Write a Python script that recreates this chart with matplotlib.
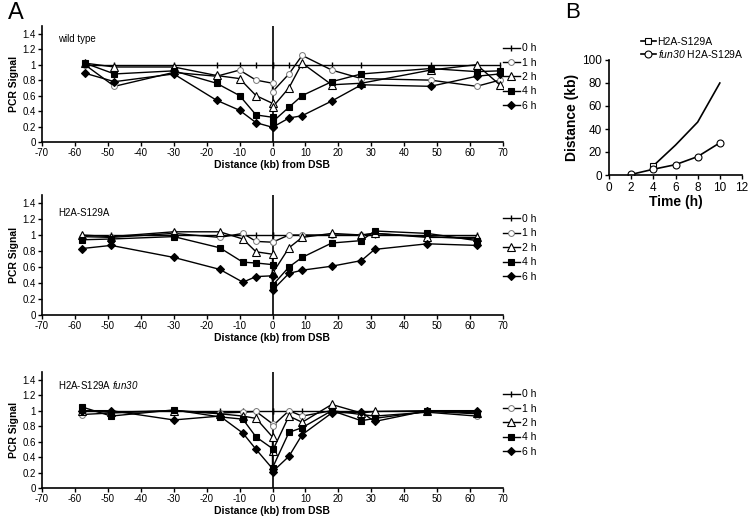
import numpy as np
import matplotlib
matplotlib.use('Agg')
import matplotlib.pyplot as plt

plt.rcParams['font.family'] = ['Liberation Sans', 'DejaVu Sans']
plt.rcParams['axes.unicode_minus'] = False
# mathtext is only used for the italic gene name
plt.rcParams['mathtext.fontset'] = 'custom'
plt.rcParams['mathtext.rm'] = 'Liberation Sans:italic'
plt.rcParams['mathtext.it'] = 'Liberation Sans:italic'

# ---- panel A data ----
x_wt = [-57, -48, -30, -17, -10, -5, 0, 0, 5, 9, 18, 27, 48, 62, 69]
wt = {
    '0 h': [1.0, 1.0, 1.0, 1.0, 1.0, 1.0, 1.0, 1.0, 1.0, 1.0, 1.0, 1.0, 1.0, 1.0, 1.0],
    '1 h': [1.0, 0.72, 0.90, 0.85, 0.93, 0.80, 0.76, 0.65, 0.88, 1.12, 0.93, 0.82, 0.80, 0.72, 0.80],
    '2 h': [1.02, 0.97, 0.97, 0.86, 0.82, 0.60, 0.50, 0.45, 0.70, 1.02, 0.74, 0.76, 0.93, 1.00, 0.74],
    '4 h': [1.02, 0.88, 0.92, 0.76, 0.60, 0.35, 0.32, 0.26, 0.45, 0.60, 0.78, 0.88, 0.95, 0.91, 0.92],
    '6 h': [0.89, 0.78, 0.88, 0.54, 0.41, 0.25, 0.19, 0.19, 0.31, 0.34, 0.53, 0.74, 0.72, 0.85, 0.88],
}

x_mut = [-58, -49, -30, -16, -9, -5, 0, 0, 5, 9, 18, 27, 31, 47, 62]
h2a = {
    '0 h': [1.0] * 15,
    '1 h': [0.98, 0.97, 1.02, 0.97, 1.02, 0.92, 0.91, 0.91, 1.0, 1.0, 1.0, 1.0, 1.02, 0.98, 0.95],
    '2 h': [1.0, 0.98, 1.04, 1.04, 0.95, 0.79, 0.76, 0.52, 0.84, 0.97, 1.02, 1.0, 1.02, 0.97, 0.97],
    '4 h': [0.94, 0.95, 0.98, 0.84, 0.66, 0.65, 0.63, 0.37, 0.60, 0.72, 0.90, 0.93, 1.05, 1.02, 0.93],
    '6 h': [0.83, 0.87, 0.72, 0.57, 0.41, 0.48, 0.49, 0.31, 0.52, 0.56, 0.61, 0.68, 0.82, 0.89, 0.87],
}
fun30 = {
    '0 h': [1.0] * 15,
    '1 h': [0.95, 0.97, 1.0, 0.97, 0.98, 0.99, 0.83, 0.80, 1.0, 0.93, 1.0, 0.95, 0.93, 0.98, 0.93],
    '2 h': [1.0, 0.98, 1.0, 0.96, 0.93, 0.90, 0.66, 0.48, 0.93, 0.85, 1.08, 0.97, 0.99, 1.0, 0.97],
    '4 h': [1.05, 0.93, 1.01, 0.92, 0.89, 0.66, 0.51, 0.26, 0.72, 0.78, 1.0, 0.87, 0.90, 0.99, 0.96],
    '6 h': [1.0, 1.0, 0.88, 0.93, 0.71, 0.50, 0.25, 0.21, 0.41, 0.69, 0.97, 0.98, 0.86, 1.0, 1.0],
}

# ---- panel B data ----
t_h2a = [4, 6, 8, 10]
d_h2a = [8, 26, 46, 80]
t_fun = [2, 4, 6, 8, 10]
d_fun = [0.5, 5, 9, 16, 28]

styles = {
    '0 h': dict(marker='|', ms=5, mew=1.0, mfc='k', mec='k'),
    '1 h': dict(marker='o', ms=4.2, mew=0.7, mfc='white', mec='#777777'),
    '2 h': dict(marker='^', ms=6, mew=0.8, mfc='white', mec='k'),
    '4 h': dict(marker='s', ms=4.5, mew=0.8, mfc='k', mec='k'),
    '6 h': dict(marker='D', ms=4.5, mew=0.8, mfc='k', mec='k'),
}

fig = plt.figure(figsize=(7.5, 5.19), dpi=100)

W, H = 750.0, 519.0
panels = [
    (wt, x_wt, 142, 116, 'wild type', 1.33),
    (h2a, x_mut, 315, 120, 'H2A-S129A', 1.28),
    (fun30, x_mut, 488, 116, 'H2A-S129A $fun30$', 1.33),
]

for data, xs, bot, hgt, title, ty in panels:
    ax = fig.add_axes([42 / W, 1 - bot / H, 461 / W, hgt / H])
    ax.axvline(0, color='k', lw=1.2, zorder=1)
    for lab in ['0 h', '1 h', '2 h', '4 h', '6 h']:
        ax.plot(xs, data[lab], color='k', lw=1.0, label=lab, zorder=2, **styles[lab])
    ax.set_xlim(-70, 70)
    ax.set_ylim(0, 1.5)
    ax.set_xticks(np.arange(-70, 71, 10))
    ax.set_yticks([0, 0.2, 0.4, 0.6, 0.8, 1, 1.2, 1.4])
    ax.set_yticklabels(['0', '0.2', '0.4', '0.6', '0.8', '1', '1.2', '1.4'])
    for s in ['top', 'right']:
        ax.spines[s].set_visible(False)
    for s in ['left', 'bottom']:
        ax.spines[s].set_linewidth(1.2)
    ax.tick_params(direction='out', length=3, width=1, labelsize=7, pad=1.5)
    ax.set_xlabel('Distance (kb) from DSB', fontsize=7.5, fontweight='bold', labelpad=1)
    ax.set_ylabel('PCR Signal', fontsize=7.5, fontweight='bold', labelpad=2)
    ax.text(-65, ty, title, fontsize=7, va='center')
    ax.legend(loc='center left', bbox_to_anchor=(1.0, 0.56), frameon=False,
              fontsize=7.5, handlelength=1.6, handletextpad=0.2,
              labelspacing=0.42, borderaxespad=0, borderpad=0)

fig.text(8 / W, 1 - 13 / H, 'A', fontsize=17, va='center')
fig.text(565 / W, 1 - 13 / H, 'B', fontsize=16, va='center')

# ---- panel B ----
axb = fig.add_axes([609 / W, 1 - 175 / H, 133 / W, 115 / H])
axb.plot(t_h2a, d_h2a, color='k', lw=1.2, marker='s', ms=5, mfc='white', mec='k',
         mew=0.8, markevery=[0], label='H2A-S129A')
axb.plot(t_fun, d_fun, color='k', lw=1.2, marker='o', ms=5, mfc='white', mec='k',
         mew=0.8, label='$fun30$ H2A-S129A')
axb.set_xlim(0, 12)
axb.set_ylim(0, 100)
axb.set_xticks(np.arange(0, 13, 2))
axb.set_yticks(np.arange(0, 101, 20))
for s in ['top', 'right']:
    axb.spines[s].set_visible(False)
for s in ['left', 'bottom']:
    axb.spines[s].set_linewidth(1.2)
axb.tick_params(direction='out', length=3, width=1, labelsize=8.5, pad=2)
axb.set_xlabel('Time (h)', fontsize=10, fontweight='bold', labelpad=1)
axb.set_ylabel('Distance (kb)', fontsize=10, fontweight='bold', labelpad=2)
axb.legend(loc='upper left', bbox_to_anchor=(0.24, 1.2), frameon=False, fontsize=7.5,
           handlelength=1.4, handletextpad=0.2, labelspacing=0.1, borderaxespad=0,
           borderpad=0)

fig.savefig('out.png', dpi=100)
